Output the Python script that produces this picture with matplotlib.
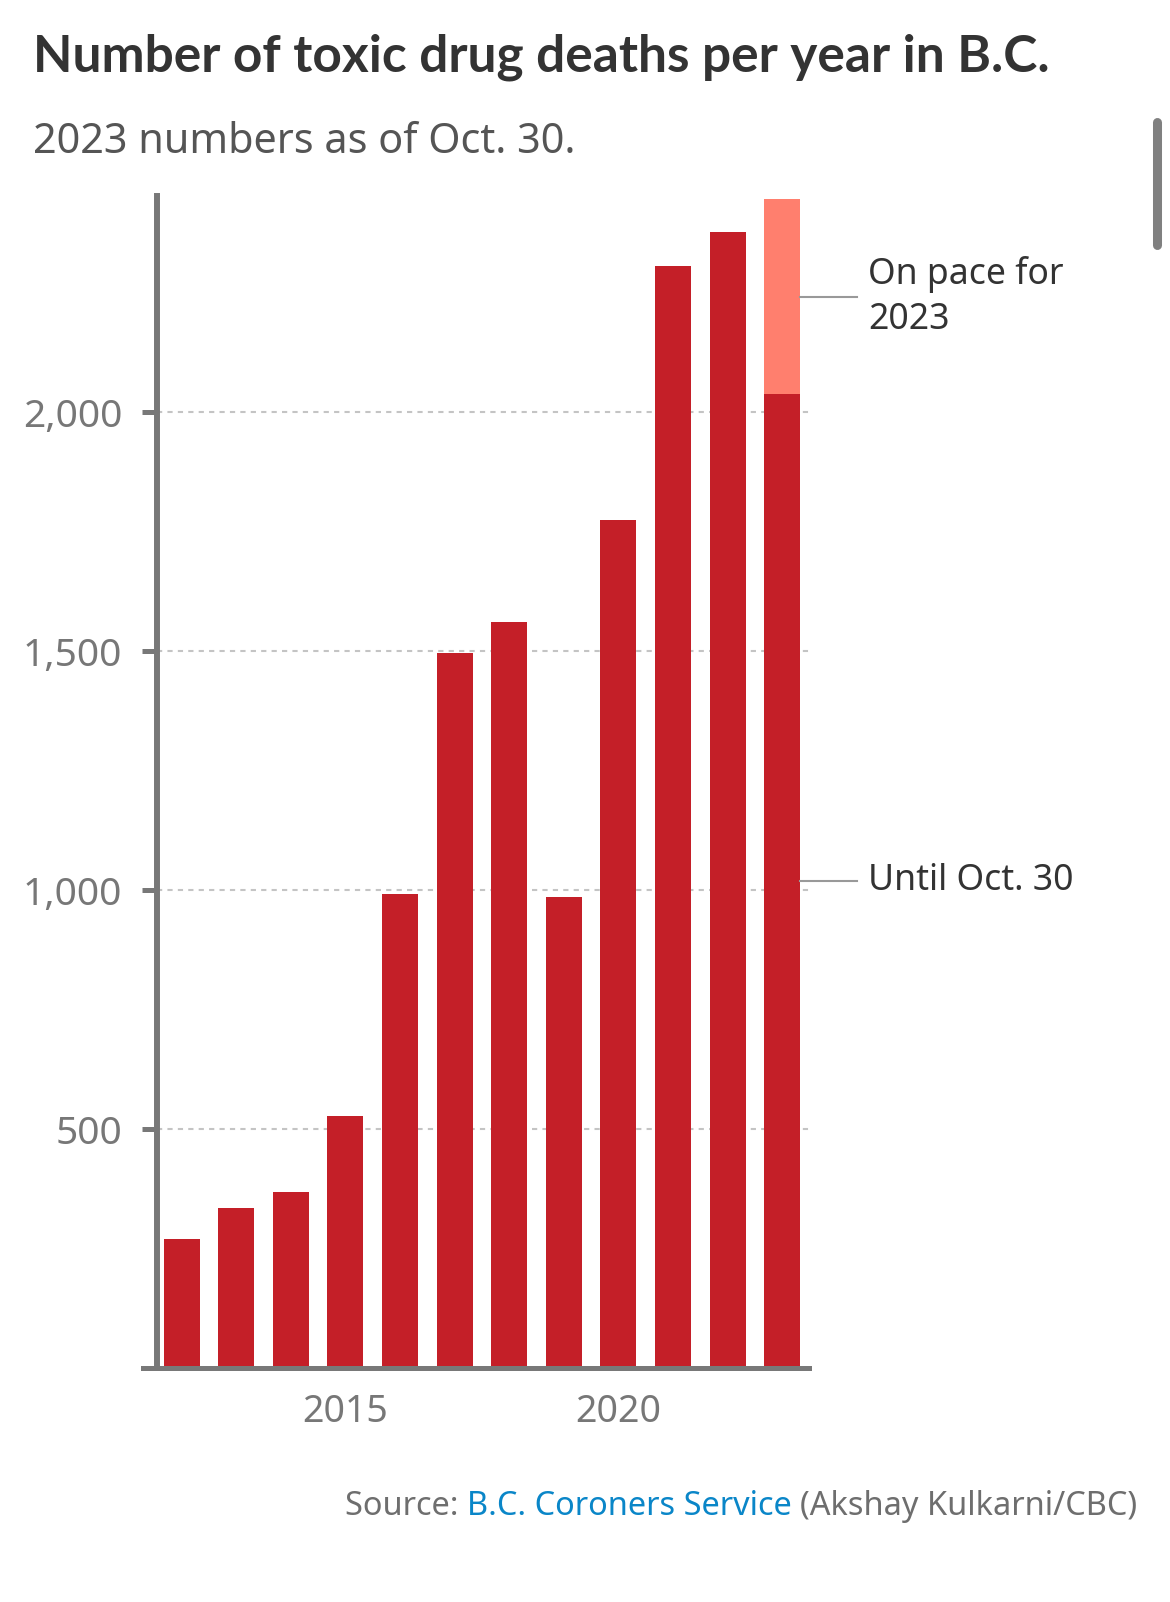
import matplotlib.pyplot as plt
from matplotlib.lines import Line2D

plt.rcParams["font.family"] = ["Noto Sans", "DejaVu Sans"]

# data
years = [2012, 2013, 2014, 2015, 2016, 2017, 2018, 2019, 2020, 2021, 2022, 2023]
deaths = [270, 334, 369, 527, 993, 1497, 1562, 986, 1775, 2306, 2378, 2038]
on_pace_2023 = 2446
y_ticks = [500, 1000, 1500, 2000]
x_ticks = [2015, 2020]

C_BAR = "#c41f28"
C_PACE = "#ff7f6e"
C_AXIS = "#787878"
C_GRID = "#c4c4c4"
C_TEXT = "#333333"
C_SUB = "#555555"
C_TICK = "#777777"

W, H = 1170, 1602
fig = plt.figure(figsize=(W / 100, H / 100), dpi=100)
ax = fig.add_axes([157 / W, 1 - 1368 / H, (809 - 157) / W, (1368 - 196) / H])

# bars
ax.bar(years, deaths, width=0.66, color=C_BAR, zorder=2)
ax.bar(years[-1], on_pace_2023 - deaths[-1], bottom=deaths[-1], width=0.66,
       color=C_PACE, zorder=2)

ax.set_xlim(2011.548, 2023.49)
ax.set_ylim(0, 2453)

# grid
for v in y_ticks:
    ax.axhline(v, color=C_GRID, lw=1.5, ls=(0, (2.5, 2.5)), zorder=1)

# axes styling
for s in ("top", "right"):
    ax.spines[s].set_visible(False)
ax.spines["left"].set_color(C_AXIS)
ax.spines["left"].set_linewidth(4.3)
ax.spines["bottom"].set_color(C_AXIS)
ax.spines["bottom"].set_linewidth(3.6)
ax.spines["bottom"].set_bounds(2011.29, 2023.49)
ax.spines["bottom"].set_zorder(3)

ax.set_yticks(y_ticks)
ax.set_yticklabels([f"{v:,}" for v in y_ticks])
ax.tick_params(axis="y", length=11, width=3.6, color=C_AXIS, pad=14,
               labelsize=28, labelcolor=C_TICK)
ax.set_xticks(x_ticks)
ax.set_xticklabels([str(v) for v in x_ticks])
ax.tick_params(axis="x", length=0, pad=18, labelsize=27, labelcolor=C_TICK)

# annotations for the 2023 bar
x_right = years[-1] + 0.33
for y_mid, label in [((deaths[-1] + on_pace_2023) / 2, "On pace for\n2023"),
                     (deaths[-1] / 2, "Until Oct. 30")]:
    ax.plot([x_right, x_right + 1.04], [y_mid, y_mid], color="#999999", lw=1.5,
            clip_on=False, zorder=2)
    ax.text(x_right + 1.245, y_mid, label, ha="left", va="center", fontsize=25.6,
            color=C_TEXT, linespacing=1.35, clip_on=False)

# title and subtitle
fig.text(32.7 / W, 1 - 71.5 / H, "Number of toxic drug deaths per year in B.C.",
         fontsize=37, fontweight="bold", color=C_TEXT, va="baseline",
         family=["Lato", "DejaVu Sans"])
fig.text(32.7 / W, 1 - 153 / H, "2023 numbers as of Oct. 30.",
         fontsize=29.8, color=C_SUB, va="baseline")

# source line, built right to left
renderer = fig.canvas.get_renderer()
x_px = 1137
for txt, col in [("(Akshay Kulkarni/CBC)", "#6e6e6e"),
                 ("B.C. Coroners Service ", "#0a86c8"),
                 ("Source: ", "#6e6e6e")]:
    t = fig.text(x_px / W, 1 - 1515 / H, txt, fontsize=23.4, color=col,
                 ha="right", va="baseline")
    bb = t.get_window_extent(renderer)
    x_px -= bb.width

# scrollbar at right edge of the screenshot
fig.add_artist(Line2D([1156.5 / W, 1156.5 / W], [1 - 122 / H, 1 - 245 / H],
                      lw=6.5, color="#808080", solid_capstyle="round"))

fig.savefig("out.png", dpi=100)
